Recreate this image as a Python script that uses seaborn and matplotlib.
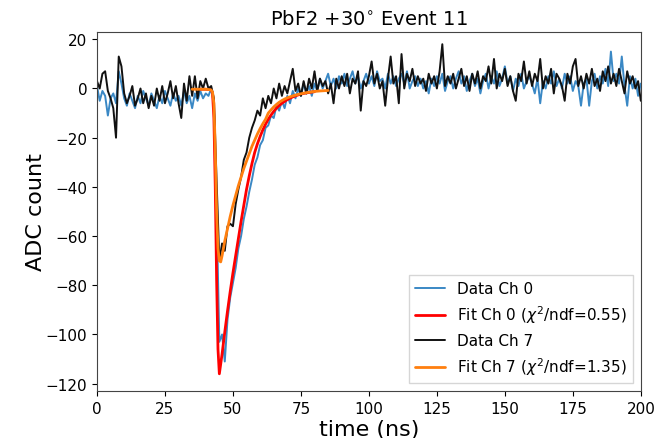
import numpy as np
import pandas as pd
import matplotlib
matplotlib.use("Agg")
import matplotlib.pyplot as plt
import seaborn as sns

# sample times (ns), 1 ns steps
time_ns = np.arange(0, 201)

# Data Ch 0 (blue)
data_ch0 = [
    1, -5, -1, -3, -11, -4, -2, -6, 7, 2,
    -4, -7, -2, -5, -8, -3, -6, -1, -4, -7,
    -2, -5, -8, -3, -6, -1, -4, -7, -2, -5,
    -3, -7, -1, -6, -3, -8, -2, -5, -1, -4,
    -2, -3, 0, -6, -50, -103, -100, -111, -94, -85,
    -79, -73, -65, -60, -53, -48, -42, -37, -31, -28,
    -23, -21, -16, -15, -11, -12, -7, -9, -5, -8,
    -3, -6, -1, -4, 0, -3, 2, -2, 1, -3,
    2, -1, 4, 0, 3, 6, 1, 4, 0, 5,
    2, 6, 1, 4, 7, 2, 5, 0, 3, 6,
    2, 5, 1, 7, 3, 4, 0, 6, 2, 5,
    1, 4, 6, 2, 7, 0, 3, 5, 1, 4,
    0, 3, -2, 4, 1, 5, 2, 6, -1, 3,
    5, 0, 4, 7, 2, 5, -1, 3, 6, 1,
    4, -2, 3, 6, 0, 5, 2, 7, 1, 4,
    9, 2, 5, -1, 4, 1, 6, 0, 3, 5,
    2, -2, 4, -6, 3, 0, 5, 2, 7, 1,
    4, 0, 6, 2, 5, -1, 3, 1, -7, 2,
    4, -7, 3, 6, 0, 5, 2, 8, 1, 15,
    3, 6, 2, 13, 1, -7, 5, 0, 4, -3,
    2,
]

# Data Ch 7 (black)
data_ch7 = [
    3, 0, 6, 7, -1, -4, -8, -20, 13, 9,
    -2, -6, -3, 1, -7, -4, 0, -6, -2, -8,
    -3, -7, 0, -5, 1, -6, -2, 3, -4, 1,
    -6, -12, 2, -5, 5, -3, 5, -4, 3, 0,
    4, 0, 1, -4, -38, -70, -63, -66, -56, -55,
    -56, -47, -41, -36, -29, -26, -20, -16, -13, -9,
    -11, -4, -8, -3, -6, 0, -4, 2, -3, 1,
    -2, 3, 8, -1, 2, -3, 3, -2, 4, 0,
    7, -1, 4, 1, 3, -2, 2, -6, 4, 0,
    5, 1, 6, -2, 4, 2, 7, -9, 3, 1,
    5, 11, 2, 6, 0, 3, -7, 4, 13, 2,
    5, -6, 14, 0, 6, 3, 8, 1, 5, 2,
    4, -1, 6, 2, 5, 0, 7, 18, 1, 5,
    2, 6, 0, 4, 8, 1, 5, -1, 6, 2,
    7, 0, 5, 3, 9, 2, 12, 0, 6, 3,
    8, 1, 5, -1, -5, 6, 3, 11, 2, 7,
    1, 6, 3, 12, 0, 5, 2, 8, -2, 6,
    4, 1, -5, 6, 2, 9, 12, 1, 5, 0,
    6, 2, 8, 1, 4, -1, 7, 3, 9, 2,
    6, 1, 8, 3, -2, 7, 2, 5, 0, 3,
    -5,
]

# fit curves
fit0_t = [38, 39, 40, 41, 42, 42.5, 43, 43.5, 44, 44.5, 45, 46, 47, 48, 49,
          50, 51, 52, 53, 54, 55, 56, 57, 58, 59, 60, 61, 62, 63, 64, 65,
          66, 67, 68, 70, 72, 74, 76, 78, 80]
fit0_y = [-0.3, -0.3, -0.3, -0.4, -0.5, -2, -12, -40, -78, -106, -116, -108,
          -99, -90.5, -82.5, -75, -68, -61, -54, -47.5, -41, -35.5, -30.5,
          -26, -22.5, -19.5, -16.8, -14.5, -12.5, -10.8, -9.3, -8, -6.9, -6,
          -4.5, -3.4, -2.6, -2, -1.6, -1.3]

fit7_t = [35, 36, 37, 38, 39, 40, 41, 42, 42.5, 43, 43.5, 44, 44.5, 45, 45.5,
          46, 47, 48, 49, 50, 51, 52, 53, 54, 55, 56, 57, 58, 59, 60, 61, 62,
          63, 64, 65, 66, 67, 68, 69, 70, 72, 74, 76, 78, 80, 82, 85]
fit7_y = [-0.3, -0.3, -0.3, -0.3, -0.3, -0.3, -0.4, -0.6, -1.5, -6, -25, -50,
          -65, -70, -70.5, -68, -62, -57, -52, -47.5, -43.5, -39.5, -36,
          -32.5, -29.5, -26.5, -23.5, -21, -18.5, -16.3, -14.3, -12.5, -10,
          -8.7, -7.5, -6.5, -5.6, -4.9, -4.3, -3.8, -3.0, -2.4, -1.9, -1.5,
          -1.2, -1.0, -0.8]

sns.set_style("ticks")
plt.rcParams['font.family'] = ['DejaVu Sans']
plt.rcParams['text.color'] = 'black'
plt.rcParams['axes.labelcolor'] = 'black'

fig = plt.figure(figsize=(6.62, 4.39), dpi=100)
ax = fig.add_axes([0.1465, 0.107, 0.8215, 0.818])

sns.lineplot(x=time_ns, y=data_ch0, ax=ax, color='#3a88c5', lw=1.4,
             label='Data Ch 0', estimator=None, sort=False)
sns.lineplot(x=fit0_t, y=fit0_y, ax=ax, color='red', lw=2,
             label=r'Fit Ch 0 ($\chi^2$/ndf=0.55)', estimator=None, sort=False)
sns.lineplot(x=time_ns, y=data_ch7, ax=ax, color='#111111', lw=1.4,
             label='Data Ch 7', estimator=None, sort=False)
sns.lineplot(x=fit7_t, y=fit7_y, ax=ax, color='#ff7f0e', lw=2,
             label=r'Fit Ch 7 ($\chi^2$/ndf=1.35)', estimator=None, sort=False)

ax.set_xlim(0, 200)
ax.set_ylim(-123, 23)
ax.set_xticks([0, 25, 50, 75, 100, 125, 150, 175, 200])
ax.set_yticks([-120, -100, -80, -60, -40, -20, 0, 20])
ax.tick_params(labelsize=11, colors='black')
ax.set_xlabel('time (ns)', fontsize=16, labelpad=2)
ax.set_ylabel('ADC count', fontsize=16, labelpad=0)
ax.set_title(r'PbF2 +30$^{\circ}$ Event 11', fontsize=14)
for s in ax.spines.values():
    s.set_color('#444444')

ax.legend(loc='lower right', fontsize=11, frameon=True, fancybox=False)

plt.savefig('out.png', dpi=100)
